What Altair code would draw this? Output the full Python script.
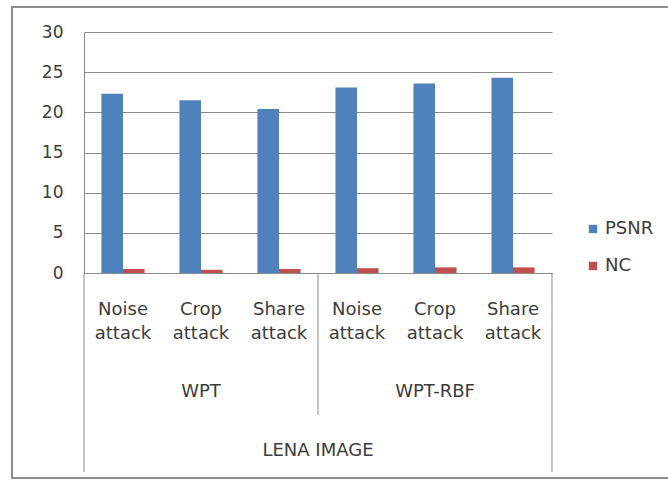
import altair as alt
import pandas as pd

# ---- data ----
groups = ["WPT", "WPT", "WPT", "WPT-RBF", "WPT-RBF", "WPT-RBF"]
attacks = ["Noise attack", "Crop attack", "Share attack",
           "Noise attack", "Crop attack", "Share attack"]
psnr = [22.3, 21.5, 20.4, 23.1, 23.6, 24.3]
nc = [0.5, 0.4, 0.5, 0.6, 0.7, 0.7]
series = ["PSNR", "NC"]
series_colors = ["#4F81BD", "#C0504D"]
group_names = ["WPT", "WPT-RBF"]
super_label = "LENA IMAGE"
y_ticks = [0, 5, 10, 15, 20, 25, 30]

keys = [g + "|" + a for g, a in zip(groups, attacks)]

rows = []
for k, g, a, p, n in zip(keys, groups, attacks, psnr, nc):
    rows.append({"key": k, "group": g, "attack": a, "series": "PSNR", "value": p})
    rows.append({"key": k, "group": g, "attack": a, "series": "NC", "value": n})
bars_df = pd.DataFrame(rows)
cats_df = pd.DataFrame({"key": keys, "attack": attacks})
# group label sits under the middle category of each group
grp_df = pd.DataFrame({"group": group_names,
                       "key": [k for k, a in zip(keys, attacks) if a == "Crop attack"]})

W, H = 468, 241
GRAY = "#8a8a8a"
TXT = "#3c3c3c"
FONT = "DejaVu Sans"

xscale = alt.Scale(domain=keys, paddingInner=0, paddingOuter=0)

bars = alt.Chart(bars_df).mark_bar().encode(
    x=alt.X("key:N", scale=xscale, sort=keys,
            axis=alt.Axis(labels=False, ticks=False, title=None, domain=True,
                          domainColor=GRAY, grid=False)),
    xOffset=alt.XOffset("series:N", sort=series,
                        scale=alt.Scale(domain=series, paddingInner=0, paddingOuter=0.81)),
    y=alt.Y("value:Q", scale=alt.Scale(domain=[0, 30], nice=False),
            axis=alt.Axis(values=y_ticks, title=None, ticks=False, grid=True,
                          gridColor=GRAY, gridWidth=1, domain=True, domainColor=GRAY,
                          labelFontSize=17, labelColor=TXT, labelPadding=21,
                          labelFont=FONT)),
    color=alt.Color("series:N", sort=series,
                    scale=alt.Scale(domain=series, range=series_colors),
                    legend=alt.Legend(title=None, orient="none", legendX=500, legendY=188,
                                      symbolType="square", symbolSize=70,
                                      symbolStrokeWidth=0, labelFontSize=18,
                                      labelColor=TXT, labelFont=FONT, rowPadding=19,
                                      labelOffset=3)),
)

cat_text = alt.Chart(cats_df).mark_text(
    lineBreak=" ", baseline="alphabetic", align="center", fontSize=18,
    lineHeight=23.5, color=TXT, font=FONT
).encode(
    x=alt.X("key:N", scale=xscale, sort=keys),
    y=alt.value(283),
    text="attack:N",
)

grp_text = alt.Chart(grp_df).mark_text(
    baseline="alphabetic", align="center", fontSize=18, color=TXT, font=FONT
).encode(
    x=alt.X("key:N", scale=xscale, sort=keys),
    y=alt.value(365),
    text="group:N",
)

super_text = alt.Chart(pd.DataFrame({"t": [super_label]})).mark_text(
    baseline="alphabetic", align="center", fontSize=18, color=TXT, font=FONT
).encode(x=alt.value(W / 2), y=alt.value(424), text="t:N")

sep_left = alt.Chart(pd.DataFrame({"key": [keys[0]]})).mark_rule(color=GRAY).encode(
    x=alt.X("key:N", scale=xscale, sort=keys, bandPosition=0),
    y=alt.value(H), y2=alt.value(440))
sep_mid = alt.Chart(pd.DataFrame({"key": [keys[3]]})).mark_rule(color=GRAY).encode(
    x=alt.X("key:N", scale=xscale, sort=keys, bandPosition=0),
    y=alt.value(H), y2=alt.value(383))
sep_right = alt.Chart(pd.DataFrame({"key": [keys[-1]]})).mark_rule(color=GRAY).encode(
    x=alt.X("key:N", scale=xscale, sort=keys, bandPosition=1),
    y=alt.value(H), y2=alt.value(440))

frame = alt.Chart(pd.DataFrame({"a": [0]})).mark_rect(
    fill=None, stroke="#8c8c8c", strokeWidth=2
).encode(x=alt.value(-72), x2=alt.value(600), y=alt.value(-25), y2=alt.value(446))

chart = alt.layer(
    frame, bars, sep_left, sep_mid, sep_right, cat_text, grp_text, super_text
).properties(
    width=W, height=H,
    autosize=alt.AutoSizeParams(type="none"),
    padding={"left": 84, "top": 32, "right": 116, "bottom": 207},
    background="white",
).configure_view(stroke=None).configure_axis(labelFont=FONT)

chart.save("out.html", embed_options={"renderer": "svg", "actions": False})
